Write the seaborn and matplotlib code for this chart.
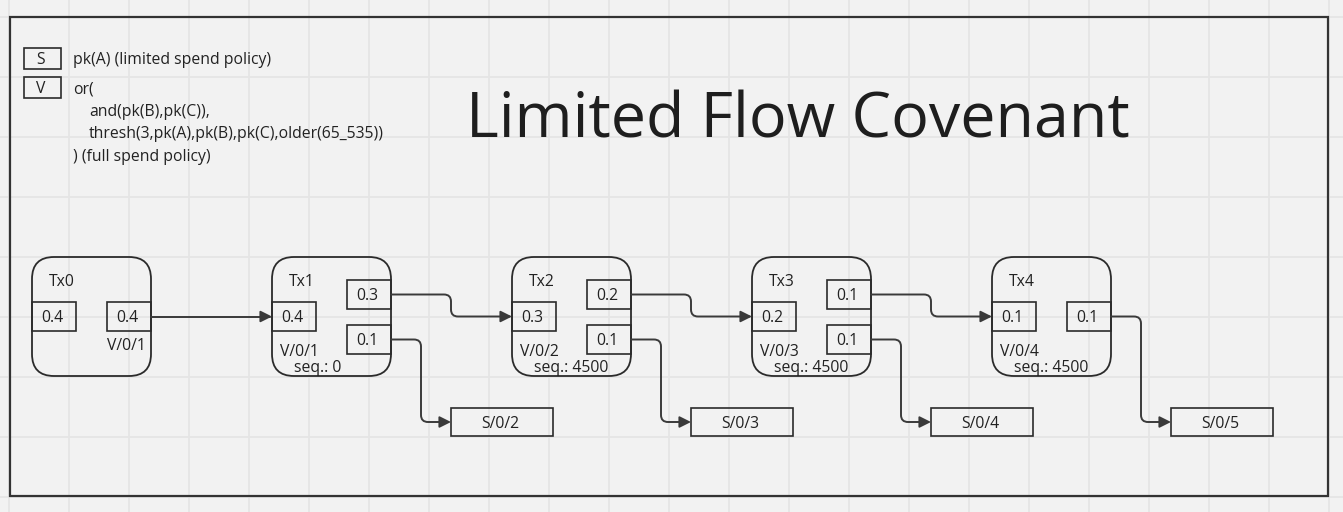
import matplotlib.pyplot as plt
from matplotlib.patches import FancyBboxPatch, Rectangle, FancyArrowPatch
from matplotlib.path import Path
import seaborn as sns

# diagram content
tx_names = ['Tx0', 'Tx1', 'Tx2', 'Tx3', 'Tx4']
in_values = ['0.4', '0.4', '0.3', '0.2', '0.1']
out_values = [['0.4'], ['0.3', '0.1'], ['0.2', '0.1'], ['0.1', '0.1'], ['0.1']]
out_targets = [['next'], ['next', 'spend'], ['next', 'spend'], ['next', 'spend'], ['spend']]
vault_labels = ['V/0/1', 'V/0/1', 'V/0/2', 'V/0/3', 'V/0/4']
seq_labels = [None, 'seq.: 0', 'seq.: 4500', 'seq.: 4500', 'seq.: 4500']
spend_labels = [None, 'S/0/2', 'S/0/3', 'S/0/4', 'S/0/5']
legend_keys = ['S', 'V']
legend_lines = [
    [('pk(A) (limited spend policy)', 0)],
    [('or(', 0), ('and(pk(B),pk(C)),', 1), ('thresh(3,pk(A),pk(B),pk(C),older(65_535))', 1),
     (') (full spend policy)', 0)],
]
title = 'Limited Flow Covenant'

# layout (pixels)
W, H = 1343, 512
X0, STEP, TOP, BW, BH = 32, 240, 257, 119, 119
IW, IH = 44, 29
EDGE = '#2b2b2b'
LINE = '#3a3a3a'
TXT = '#222222'
FS = 11.3
DY = 1.5  # text sits a bit high with va='center'
FONT = ['Open Sans', 'DejaVu Sans']

sns.set_style('whitegrid', {'axes.facecolor': '#f2f2f2', 'figure.facecolor': '#f2f2f2',
                            'grid.color': '#e5e5e5'})
plt.rcParams['font.family'] = FONT

fig = plt.figure(figsize=(W / 100, H / 100), dpi=100)
ax = fig.add_axes([0, 0, 1, 1])
ax.set_xlim(0, W)
ax.set_ylim(H, 0)
ax.set_xticks(range(9, W, 60))
ax.set_yticks(range(17, H, 60))
ax.grid(True, lw=1.3)
ax.tick_params(labelbottom=False, labelleft=False, length=0)
for s in ax.spines.values():
    s.set_visible(False)


def elbow(points, r=7):
    verts = [points[0]]
    codes = [Path.MOVETO]
    for i in range(1, len(points) - 1):
        (x0, y0), (x1, y1), (x2, y2) = points[i - 1], points[i], points[i + 1]
        d1 = ((x1 - x0) > 0) - ((x1 - x0) < 0), ((y1 - y0) > 0) - ((y1 - y0) < 0)
        d2 = ((x2 - x1) > 0) - ((x2 - x1) < 0), ((y2 - y1) > 0) - ((y2 - y1) < 0)
        verts += [(x1 - d1[0] * r, y1 - d1[1] * r), (x1, y1), (x1 + d2[0] * r, y1 + d2[1] * r)]
        codes += [Path.LINETO, Path.CURVE3, Path.CURVE3]
    verts.append(points[-1])
    codes.append(Path.LINETO)
    return Path(verts, codes)


def arrow(points):
    ax.add_patch(FancyArrowPatch(path=elbow(points), arrowstyle='-|>', mutation_scale=17,
                                 lw=1.4, color=LINE, zorder=3))


def label(x, y, s, ha='left', size=FS):
    ax.text(x, y + DY, s, ha=ha, va='center', fontsize=size, color=TXT)


def box(x, y, w, h, s, dx=9, ha='left'):
    ax.add_patch(Rectangle((x, y), w, h, fill=False, ec=EDGE, lw=1.2, zorder=2))
    tx = x + dx if ha == 'left' else x + w / 2 - 2
    label(tx, y + h / 2, s, ha=ha)


# outer frame
ax.add_patch(Rectangle((10, 17), 1318, 479, fill=False, ec='#333333', lw=1.6, zorder=2))

# title
ax.text(798, 137, title, ha='center', va='baseline', fontsize=45.2, color='#1e1e1e')

# legend
ly = 48
for key, lines in zip(legend_keys, legend_lines):
    box(24, ly, 37, 21, key, ha='center')
    for j, (line, indent) in enumerate(lines):
        label(73 + 16 * indent, ly + 10.5 + j * 22.7, line)
    ly += 29

in_y = TOP + 45
for i, name in enumerate(tx_names):
    left = X0 + i * STEP
    right = left + BW
    ax.add_patch(FancyBboxPatch((left, TOP), BW, BH, boxstyle='round,pad=0,rounding_size=22',
                                fill=False, ec=EDGE, lw=1.3, zorder=2))
    label(left + 17, TOP + 24, name)
    box(left, in_y, IW, IH, in_values[i])

    outs = out_values[i]
    ys = [in_y] if len(outs) == 1 else [TOP + 23, TOP + 68]
    for val, tgt, oy in zip(outs, out_targets[i], ys):
        box(right - IW, oy, IW, IH, val)
        cy = oy + IH / 2
        if tgt == 'next':
            nx = right + STEP - BW
            if len(outs) == 1:
                arrow([(right, cy), (nx, cy)])
            else:
                arrow([(right, cy), (right + 60, cy), (right + 60, in_y + IH / 2), (nx, in_y + IH / 2)])
        else:
            sy = 408
            arrow([(right, cy), (right + 30, cy), (right + 30, sy + 14), (right + 60, sy + 14)])
            box(right + 60, sy, 102, 28, spend_labels[i], ha='center')

    if seq_labels[i] is None:
        label(right - IW, 344, vault_labels[i])
    else:
        label(left + 8, 351, vault_labels[i])
        label(left + 22, 366, seq_labels[i])

fig.savefig('out.png', dpi=100, facecolor='#f2f2f2')
